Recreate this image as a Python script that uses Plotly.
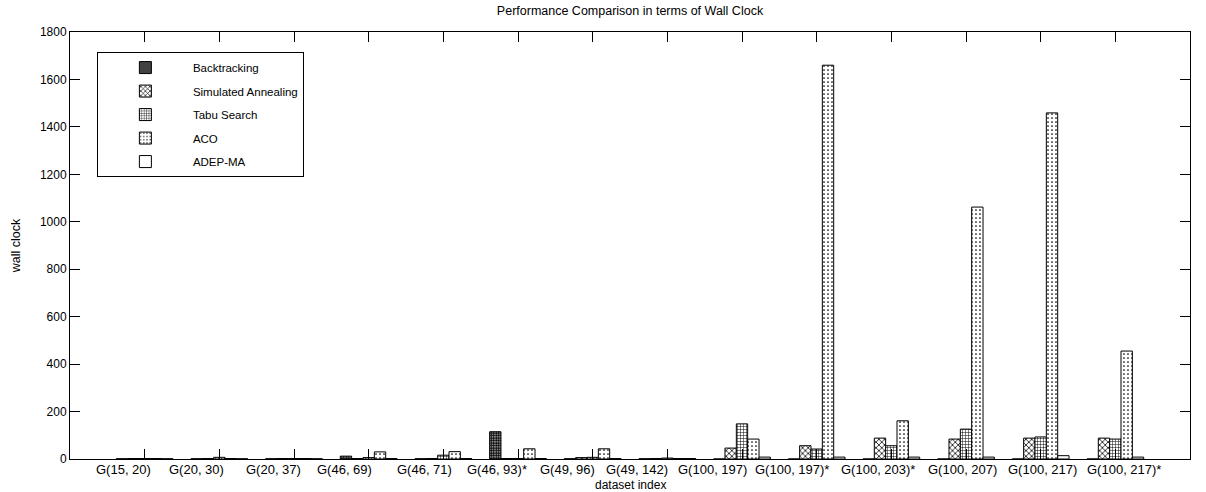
import plotly.graph_objects as go

categories = ["G(15, 20)", "G(20, 30)", "G(20, 37)", "G(46, 69)", "G(46, 71)",
              "G(46, 93)*", "G(49, 96)", "G(49, 142)", "G(100, 197)", "G(100, 197)*",
              "G(100, 203)*", "G(100, 207)", "G(100, 217)", "G(100, 217)*"]
cat_index = list(range(1, 15))
# where the (slightly offset) tick label texts sit along the category axis
label_pos = [0.72, 1.70, 2.72, 3.67, 4.75, 5.72, 6.66, 7.60, 8.60, 9.67,
             10.82, 11.95, 13.02, 14.12]

backtracking = [1, 1, 1, 12, 1, 115, 1, 1, 0, 0, 0, 0, 0, 0]
simulated_annealing = [2, 2, 2, 2, 2, 2, 6, 2, 46, 56, 88, 84, 88, 88]
tabu_search = [2, 7, 2, 6, 16, 2, 7, 4, 148, 42, 56, 126, 93, 84]
aco = [2, 2, 2, 30, 31, 43, 43, 2, 84, 1660, 161, 1062, 1459, 455]
adep_ma = [1, 1, 1, 2, 2, 2, 2, 2, 8, 8, 8, 8, 14, 8]

y_ticks = list(range(0, 1801, 200))

series = [
    ("Backtracking", backtracking, dict(shape=".", size=2.5, solidity=0.75)),
    ("Simulated Annealing", simulated_annealing, dict(shape="x", size=4, solidity=0.35)),
    ("Tabu Search", tabu_search, dict(shape="+", size=3, solidity=0.3)),
    ("ACO", aco, dict(shape=".", size=4, solidity=0.15)),
    ("ADEP-MA", adep_ma, None),
]

fig = go.Figure()
for i, (name, vals, pat) in enumerate(series):
    marker = dict(color="white", line=dict(color="black", width=1))
    if pat is not None:
        marker["pattern"] = dict(fgcolor="black", bgcolor="white", fillmode="replace", **pat)
    fig.add_trace(go.Bar(x=cat_index, y=vals, name=name, marker=marker,
                         legendgroup=name))

font = "Liberation Sans, Arial, sans-serif"

annotations = []
for pos, txt in zip(label_pos, categories):
    annotations.append(dict(x=pos, xref="x", y=0, yref="paper", yanchor="top",
                            yshift=-1, text=txt, showarrow=False,
                            font=dict(size=13)))
annotations.append(dict(x=0.5, xref="paper", y=0, yref="paper", yanchor="top",
                        yshift=-17, text="dataset index", showarrow=False,
                        font=dict(size=12)))

fig.update_layout(
    width=1206, height=492,
    margin=dict(l=70, r=16, t=32, b=33),
    paper_bgcolor="white", plot_bgcolor="white",
    barmode="group", bargap=0.24, bargroupgap=0.0,
    font=dict(family=font, size=12, color="black"),
    title=dict(text="Performance Comparison in terms of Wall Clock",
               x=0.5, xref="paper", xanchor="center", y=0.988, yanchor="top",
               font=dict(size=12.5)),
    showlegend=True,
    legend=dict(x=0.024, y=0.953, xanchor="left", yanchor="top",
                bordercolor="black", borderwidth=1, bgcolor="white",
                font=dict(size=11.5), tracegroupgap=4.5, itemwidth=85,
                traceorder="grouped"),
    xaxis=dict(range=[0, 15], tickvals=cat_index, showticklabels=False,
               ticks="inside", ticklen=10, tickcolor="black",
               showline=True, linecolor="black", linewidth=1, mirror="ticks",
               showgrid=False, zeroline=False),
    yaxis=dict(range=[0, 1800], tickvals=y_ticks, ticks="inside", ticklen=10,
               tickcolor="black", showline=True, linecolor="black", linewidth=1,
               mirror="ticks", showgrid=False, zeroline=False,
               tickfont=dict(size=12),
               title=dict(text="wall clock", standoff=16, font=dict(size=12.5))),
    annotations=annotations,
)

fig.write_html("out.html")
